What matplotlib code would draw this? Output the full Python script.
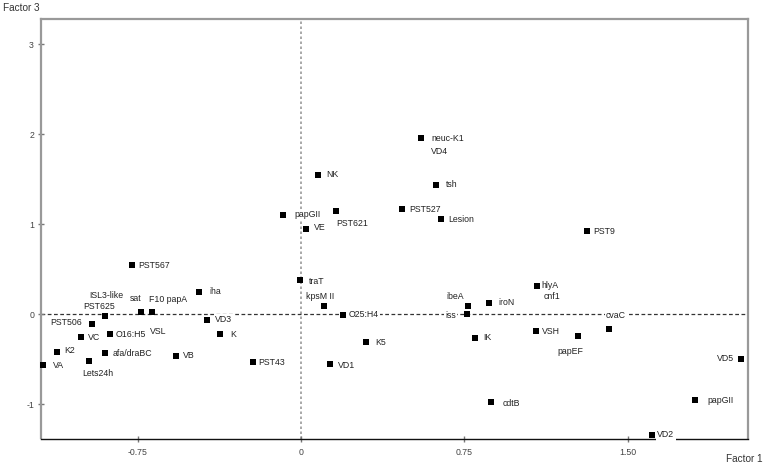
import matplotlib
matplotlib.use("Agg")
import matplotlib.pyplot as plt

# ---- data (Factor 1, Factor 3) ----
names = ["neuc-K1", "VD4", "NK", "tsh", "papGII", "PST621", "PST527", "Lesion",
         "VE", "PST9", "PST567", "traT", "iha", "hlyA", "cnf1", "kpsM II",
         "ibeA", "iroN", "sat", "F10 papA", "VSL", "PST625", "ISL3-like",
         "O25:H4", "iss", "VD3", "PST506", "cvaC", "VSH", "O16:H5", "K",
         "papEF", "VC", "IK", "K5", "K2", "afa/draBC", "VB", "VD5", "Lets24h",
         "PST43", "VD1", "VA", "papGII ", "cdtB", "VD2"]
factor1 = [0.550, 0.550, 0.078, 0.618, -0.081, 0.161, 0.464, 0.643,
           0.023, 1.312, -0.778, -0.006, -0.469, 1.085, 1.085, 0.104,
           0.769, 0.864, -0.736, -0.683, -0.683, -0.900, -0.900,
           0.192, 0.762, -0.433, -0.960, 1.413, 1.078, -0.876, -0.372,
           1.274, -1.011, 0.797, 0.297, -1.121, -0.902, -0.576, 2.020, -0.974,
           -0.222, 0.135, -1.186, 1.810, 0.873, 1.611]
factor3 = [1.956, 1.956, 1.551, 1.440, 1.100, 1.144, 1.168, 1.056,
           0.948, 0.926, 0.544, 0.378, 0.251, 0.318, 0.318, 0.089,
           0.096, 0.126, 0.026, 0.022, 0.022, -0.019, -0.019,
           -0.004, 0.001, -0.060, -0.104, -0.163, -0.189, -0.216, -0.219,
           -0.244, -0.252, -0.260, -0.304, -0.416, -0.433, -0.460, -0.497, -0.522,
           -0.533, -0.556, -0.563, -0.949, -0.974, -1.341]

xticks = [-0.75, 0, 0.75, 1.50]
xtick_labels = ["-0.75", "0", "0.75", "1.50"]
yticks = [-1, 0, 1, 2, 3]
ytick_labels = ["-1", "0", "1", "2", "3"]

# ---- label layout (pixel offsets from marker, alignment) ----
label_layout = {
    "neuc-K1": (11, 0, "left"), "VD4": (10, -13.4, "left"), "NK": (8.7, 0, "left"),
    "tsh": (10.3, 0, "left"), "papGII": (10.7, 1, "left"), "PST621": (0.7, -12, "left"),
    "PST527": (7.3, -0.8, "left"), "Lesion": (7, -0.7, "left"), "VE": (8, 1, "left"),
    "PST9": (6.6, -1, "left"), "PST567": (7, 0, "left"), "traT": (9, -1.4, "left"),
    "iha": (10.3, 0, "left"), "hlyA": (4.4, 0, "left"), "cnf1": (6.7, -11, "left"),
    "kpsM II": (-17.7, 9.6, "left"), "ibeA": (-22.3, 9, "left"), "iroN": (9.3, 0.7, "left"),
    "sat": (-10.7, 13.7, "left"), "F10 papA": (-3.3, 13, "left"), "VSL": (-2.3, -18.7, "left"),
    "PST625": (-21.7, 9.3, "left"), "ISL3-like": (-15.7, 21, "left"),
    "O25:H4": (5.6, -0.3, "left"), "iss": (-10.8, -0.8, "right"), "VD3": (8.3, 0, "left"),
    "PST506": (-9.7, 1, "right"), "cvaC": (-3, 13, "left"), "VSH": (6.6, -0.4, "left"),
    "O16:H5": (5.7, -0.3, "left"), "K": (10.7, -0.7, "left"), "papEF": (-20.6, -15.4, "left"),
    "VC": (7.3, -0.7, "left"), "IK": (8.7, 0, "left"), "K5": (10, -1, "left"),
    "K2": (7.3, 1.7, "left"), "afa/draBC": (8, -0.4, "left"), "VB": (7.7, -0.3, "left"),
    "VD5": (-6.7, 0.3, "right"), "Lets24h": (-6.3, -12.7, "left"), "PST43": (6, -0.4, "left"),
    "VD1": (7.4, -1, "left"), "VA": (10.3, -0.3, "left"), "papGII ": (12.3, -0.3, "left"),
    "cdtB": (11.7, -1.7, "left"), "VD2": (5.6, 0, "left"),
}

plt.rcParams['font.family'] = ['Liberation Sans', 'DejaVu Sans']

W, H = 765, 466
fig = plt.figure(figsize=(W / 100, H / 100), dpi=100)
ax = fig.add_axes([41 / W, 1 - 438.5 / H, (748 - 41) / W, (438.5 - 19) / H])

ax.set_xlim(-1.194, 2.053)
ax.set_ylim(-1.38, 3.281)

# reference lines
ax.axvline(0, color="#999999", lw=1.2, ls=(0, (1.5, 1.5)), zorder=1)
ax.axhline(0, color="#333333", lw=0.9, ls=(0, (3, 2)), zorder=1)

# markers
ax.plot(factor1, factor3, ls="none", marker="s", ms=4.3, mew=0,
        color="black", zorder=5, clip_on=False)

for n, x, y in zip(names, factor1, factor3):
    dx, dy, ha = label_layout[n]
    ax.annotate(n.strip(), (x, y), xytext=(dx, dy), textcoords="offset pixels",
                ha=ha, va="center", fontsize=6.3, color="#222222",
                bbox=dict(facecolor="white", edgecolor="none", pad=0.8),
                zorder=4, annotation_clip=False)

# spines
for s in ["left", "top", "right"]:
    ax.spines[s].set_color("#999999")
    ax.spines[s].set_linewidth(1.6)
ax.spines["bottom"].set_color("#111111")
ax.spines["bottom"].set_linewidth(1.0)

ax.set_xticks(xticks)
ax.set_xticklabels(xtick_labels)
ax.set_yticks(yticks)
ax.set_yticklabels(ytick_labels)
ax.tick_params(axis="both", direction="inout", length=4, width=1,
               color="#777777", labelsize=6.3, labelcolor="#444444")
ax.tick_params(axis="x", pad=5)
ax.tick_params(axis="y", pad=3)

fig.text(3 / W, 1 - 8 / H, "Factor 3", ha="left", va="center",
         fontsize=7.2, color="#333333")
fig.text(763 / W, 1 - 459 / H, "Factor 1", ha="right", va="center",
         fontsize=7.2, color="#333333")

fig.savefig("out.png", dpi=100)
